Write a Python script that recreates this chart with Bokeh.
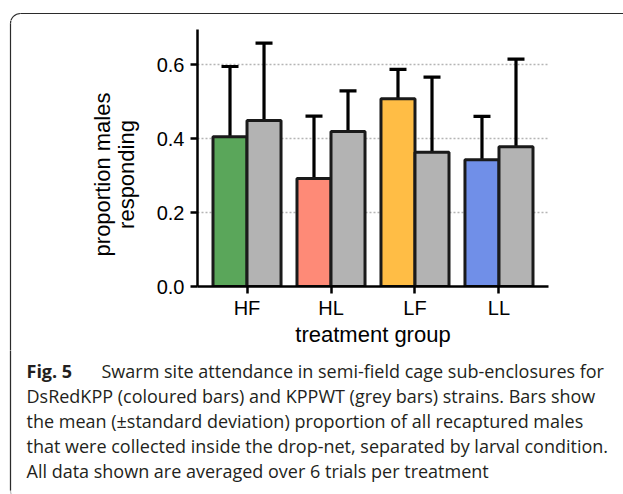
import math
from bokeh.plotting import figure
from bokeh.layouts import column, row
from bokeh.models import (ColumnDataSource, FactorRange, Range1d, Whisker, TeeHead,
                          Label, FixedTicker, NumeralTickFormatter, BoxAnnotation)
from bokeh.transform import dodge
from bokeh.embed import file_html
from bokeh.resources import INLINE

# ---- data ----
groups = ["HF", "HL", "LF", "LL"]
coloured_mean = [0.405, 0.292, 0.508, 0.343]
coloured_sd = [0.190, 0.169, 0.079, 0.117]
grey_mean = [0.449, 0.419, 0.363, 0.378]
grey_sd = [0.209, 0.110, 0.203, 0.237]
coloured_colors = ["#5aa65a", "#fe8a77", "#ffbd45", "#708fe8"]
grey_color = "#b3b3b3"
y_ticks = [0.0, 0.2, 0.4, 0.6]

y_label_lines = ["proportion males", "responding"]
x_label = "treatment group"
caption_bold = "Fig. 5"
caption_lines = [
    "Swarm site attendance in semi-field cage sub-enclosures for",
    "DsRedKPP (coloured bars) and KPPWT (grey bars) strains. Bars show",
    "the mean (\u00b1standard deviation) proportion of all recaptured males",
    "that were collected inside the drop-net, separated by larval condition.",
    "All data shown are averaged over 6 trials per treatment",
]

src = ColumnDataSource(dict(
    group=groups,
    c_mean=coloured_mean,
    c_upper=[m + s for m, s in zip(coloured_mean, coloured_sd)],
    c_lower=[m - s for m, s in zip(coloured_mean, coloured_sd)],
    g_mean=grey_mean,
    g_upper=[m + s for m, s in zip(grey_mean, grey_sd)],
    g_lower=[m - s for m, s in zip(grey_mean, grey_sd)],
    c_color=coloured_colors,
))

W, H = 623, 494
TOP_H = 20          # strip above the chart
LAB_W = 145         # strip left of the chart (y label)
CHART_H = 330
CAP_H = H - TOP_H - CHART_H
BX, BY, BR, BB = 10, 13, 10, 500   # caption box: left, top, corner radius, bottom (page px)
BOX = dict(line_color="#2b2b2b", line_width=1.2)


def deco_fig(x0, y0, w, h):
    """A figure whose frame fills it, in page-pixel coordinates (y downwards)."""
    f = figure(width=w, height=h, output_backend="svg", toolbar_location=None,
               x_range=Range1d(x0, x0 + w), y_range=Range1d(y0 + h, y0),
               x_axis_location=None, y_axis_location=None, min_border=0,
               frame_align=False)
    f.outline_line_color = None
    f.grid.visible = False
    f.title.visible = False
    return f


# ---- chart ----
FL, FT, FR, FB = 197, 29, 548, 286  # frame position on the page
p = figure(width=W - LAB_W, height=CHART_H, output_backend="svg", toolbar_location=None,
           x_range=FactorRange(*groups, range_padding=0.0895, range_padding_units="absolute"),
           y_range=Range1d(0, 0.695),
           min_border_left=FL - LAB_W, min_border_right=W - FR,
           min_border_top=FT - TOP_H, min_border_bottom=TOP_H + CHART_H - FB,
           frame_align=False)
p.outline_line_color = None
p.title.visible = False

bw = 0.405
off = bw / 2
p.vbar(x=dodge("group", -off, range=p.x_range), top="c_mean", width=bw, source=src,
       fill_color="c_color", line_color="#1a1a1a", line_width=3)
p.vbar(x=dodge("group", off, range=p.x_range), top="g_mean", width=bw, source=src,
       fill_color=grey_color, line_color="#1a1a1a", line_width=3)

for o, up, lo in [(-off, "c_upper", "c_lower"), (off, "g_upper", "g_lower")]:
    w = Whisker(base=dodge("group", o, range=p.x_range), upper=up, lower=lo, source=src,
                line_color="black", line_width=3.2,
                upper_head=TeeHead(size=17, line_width=3.2, line_color="black"),
                lower_head=TeeHead(size=17, line_width=3.2, line_color="black"))
    p.add_layout(w)

p.xgrid.visible = False
p.ygrid.grid_line_color = "#b5b5b5"
p.ygrid.grid_line_dash = "2 2"
p.ygrid.grid_line_width = 1.5

p.yaxis.ticker = FixedTicker(ticks=y_ticks)
p.yaxis.formatter = NumeralTickFormatter(format="0.0")
for ax in (p.xaxis[0], p.yaxis[0]):
    ax.axis_line_width = 2.5
    ax.axis_line_color = "black"
    ax.major_tick_line_width = 2.5
    ax.major_tick_line_color = "black"
    ax.major_tick_out = 7
    ax.major_tick_in = 0
    ax.minor_tick_line_color = None
    ax.major_label_text_color = "black"
    ax.major_label_text_font = "Liberation Sans"
    ax.major_label_text_font_size = "20px"
p.yaxis.major_label_standoff = 6
p.xaxis.major_label_standoff = 3
p.xaxis.axis_label = x_label
p.xaxis.axis_label_text_font = "Liberation Sans"
p.xaxis.axis_label_text_font_size = "22px"
p.xaxis.axis_label_text_font_style = "normal"
p.xaxis.axis_label_text_color = "black"
p.xaxis.axis_label_standoff = 0

# ---- decoration: rounded box round figure and caption ----
top = deco_fig(0, 0, W, TOP_H)
top.segment(x0=[BX + BR], y0=[BY], x1=[W + 5], y1=[BY], **BOX)
top.arc(x=[BX + BR], y=[BY + BR], radius=BR, start_angle=math.pi / 2, end_angle=math.pi,
        direction="anticlock", **BOX)

lab = deco_fig(0, TOP_H, LAB_W, CHART_H)
lab.segment(x0=[BX], y0=[BY + BR], x1=[BX], y1=[TOP_H + CHART_H + 1], **BOX)
lab.arc(x=[BX + BR], y=[BY + BR], radius=BR, start_angle=math.pi / 2, end_angle=math.pi,
        direction="anticlock", **BOX)
for txt, xb in zip(y_label_lines, [102, 126]):
    lab.add_layout(Label(x=xb, y=174, text=txt, angle=math.pi / 2, text_align="center",
                         text_baseline="alphabetic", text_font="Liberation Sans",
                         text_font_size="22px", text_color="black"))

cap = deco_fig(0, TOP_H + CHART_H, W, CAP_H)
cap.segment(x0=[BX], y0=[TOP_H + CHART_H - 1], x1=[BX], y1=[BB - BR], **BOX)
cap.add_layout(BoxAnnotation(left=BX, right=W + 20, top=BY, bottom=BB, border_radius=BR,
                             fill_color=None, line_color=BOX["line_color"],
                             line_width=BOX["line_width"]))
cf, cs, cc = "Open Sans", "18px", "#231f20"
Y0, DY = 370, 25
cap.add_layout(Label(x=26, y=Y0, text=caption_bold, text_font=cf, text_font_size=cs,
                     text_font_style="bold", text_color=cc, text_baseline="alphabetic"))
for i, line in enumerate(caption_lines):
    cap.add_layout(Label(x=101 if i == 0 else 26, y=Y0 + DY * i, text=line, text_font=cf,
                         text_font_size=cs, text_color=cc, text_baseline="alphabetic"))

layout = column(top, row(lab, p), cap)
open("out.html", "w").write(file_html(layout, INLINE))
